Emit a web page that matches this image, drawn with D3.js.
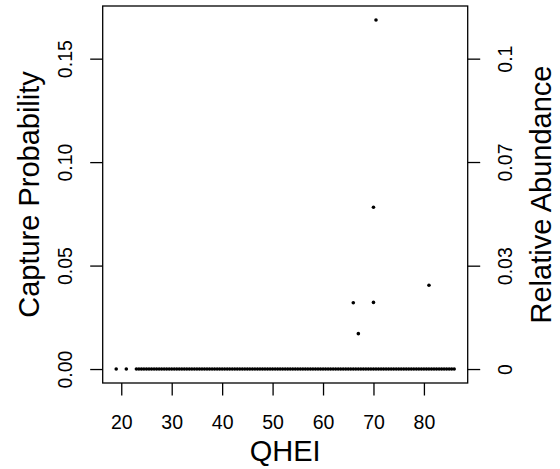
<!DOCTYPE html>
<html>
<head>
<meta charset="utf-8">
<script src="https://cdn.jsdelivr.net/npm/d3@7"></script>
<style>
  html, body { margin: 0; padding: 0; background: #fff; }
  svg { display: block; }
  text { font-family: "Liberation Sans", Arial, Helvetica, sans-serif; fill: #000; }
</style>
</head>
<body>
<svg id="chart" width="560" height="469"></svg>
<script>
// ---- Data ----
// Sites with zero capture probability (QHEI values)
const zeroQhei = [19,21,23,23.5,24,24.5,25,25.5,26,26.5,27,27.5,28,28.5,29,29.5,30,30.5,31,31.5,32,32.5,33,33.5,34,34.5,35,35.5,36,36.5,37,37.5,38,38.5,39,39.5,40,40.5,41,41.5,42,42.5,43,43.5,44,44.5,45,45.5,46,46.5,47,47.5,48,48.5,49,49.5,50,50.5,51,51.5,52,52.5,53,53.5,54,54.5,55,55.5,56,56.5,57,57.5,58,58.5,59,59.5,60,60.5,61,61.5,62,62.5,63,63.5,64,64.5,65,65.5,66,66.5,67,67.5,68,68.5,69,69.5,70,70.5,71,71.5,72,72.5,73,73.5,74,74.5,75,75.5,76,76.5,77,77.5,78,78.5,79,79.5,80,80.5,81,81.5,82,82.5,83,83.5,84,84.5,85,85.5,86];
// Sites with non-zero capture probability
const posQhei    = [66, 67, 70, 70, 70.5, 81];
const posCapture = [0.032, 0.0171, 0.0322, 0.0782, 0.1687, 0.0405];

const xTicks = [20, 30, 40, 50, 60, 70, 80];
const yTicks = [0, 0.05, 0.10, 0.15];
const yTickLabels = ["0.00", "0.05", "0.10", "0.15"];
const rightTicks = [0, 0.0333, 0.0667, 0.1];
const rightTickLabels = ["0", "0.03", "0.07", "0.1"];
const xTitle = "QHEI";
const yTitle = "Capture Probability";
const rightTitle = "Relative Abundance";

// ---- Build point table ----
const points = zeroQhei.map(q => ({x: q, y: 0}))
  .concat(posQhei.map((q, i) => ({x: q, y: posCapture[i]})));

// ---- Layout ----
const box = {left: 102.7, right: 467.7, top: 6, bottom: 383};
const tickLen = 12.5;
const tickFont = 19.5;
const titleFont = 29;

const svg = d3.select("#chart");
svg.append("rect").attr("width", 560).attr("height", 469).attr("fill", "#fff");

// R-style 4% range extension
function extend(ext) { const r = ext[1] - ext[0]; return [ext[0] - 0.04 * r, ext[1] + 0.04 * r]; }
const xDom = extend(d3.extent(points, d => d.x));
const yDom = extend(d3.extent(points, d => d.y));

const x = d3.scaleLinear().domain(xDom).range([box.left, box.right]);
const y = d3.scaleLinear().domain(yDom).range([box.bottom, box.top]);
// Relative abundance axis shares the same vertical extent
const ratio = rightTicks[3] / yTicks[3];
const yR = d3.scaleLinear().domain([yDom[0] * ratio, yDom[1] * ratio]).range([box.bottom, box.top]);

// Points
svg.append("g").selectAll("circle").data(points).join("circle")
  .attr("cx", d => x(d.x)).attr("cy", d => y(d.y))
  .attr("r", 1.8).attr("fill", "#000");

// Box
svg.append("rect")
  .attr("x", box.left).attr("y", box.top)
  .attr("width", box.right - box.left).attr("height", box.bottom - box.top)
  .attr("fill", "none").attr("stroke", "#000").attr("stroke-width", 1.3);

// Bottom axis
const gx = svg.append("g").attr("transform", `translate(0,${box.bottom})`)
  .call(d3.axisBottom(x).tickValues(xTicks).tickSize(tickLen).tickPadding(0).tickFormat(d3.format("d")));
gx.select(".domain").remove();
gx.selectAll(".tick line").attr("stroke", "#000").attr("stroke-width", 1.3);
gx.selectAll(".tick text").attr("y", 46.3).attr("dy", null)
  .style("font-size", tickFont + "px").style("font-family", "Liberation Sans, Arial, sans-serif");

// Left axis
const gy = svg.append("g").attr("transform", `translate(${box.left},0)`)
  .call(d3.axisLeft(y).tickValues(yTicks).tickSize(tickLen).tickFormat((d, i) => yTickLabels[i]));
gy.select(".domain").remove();
gy.selectAll(".tick line").attr("stroke", "#000").attr("stroke-width", 1.3);
gy.selectAll(".tick text")
  .attr("x", null).attr("dy", null)
  .attr("text-anchor", "middle")
  .attr("transform", "translate(-31,0) rotate(-90)")
  .style("font-size", tickFont + "px").style("font-family", "Liberation Sans, Arial, sans-serif");

// Right axis
const gr = svg.append("g").attr("transform", `translate(${box.right},0)`)
  .call(d3.axisRight(yR).tickValues(rightTicks).tickSize(tickLen).tickFormat((d, i) => rightTickLabels[i]));
gr.select(".domain").remove();
gr.selectAll(".tick line").attr("stroke", "#000").attr("stroke-width", 1.3);
gr.selectAll(".tick text")
  .attr("x", null).attr("dy", null)
  .attr("text-anchor", "middle")
  .attr("transform", "translate(44,0) rotate(-90)")
  .style("font-size", tickFont + "px").style("font-family", "Liberation Sans, Arial, sans-serif");

// Titles
svg.append("text").attr("x", (box.left + box.right) / 2).attr("y", 461)
  .attr("text-anchor", "middle").style("font-size", titleFont + "px").text(xTitle);
svg.append("text")
  .attr("transform", `translate(38.5,${(box.top + box.bottom) / 2}) rotate(-90)`)
  .attr("text-anchor", "middle").style("font-size", titleFont + "px").text(yTitle);
svg.append("text")
  .attr("transform", `translate(550.5,${(box.top + box.bottom) / 2}) rotate(-90)`)
  .attr("text-anchor", "middle").style("font-size", titleFont + "px").text(rightTitle);
</script>
</body>
</html>
